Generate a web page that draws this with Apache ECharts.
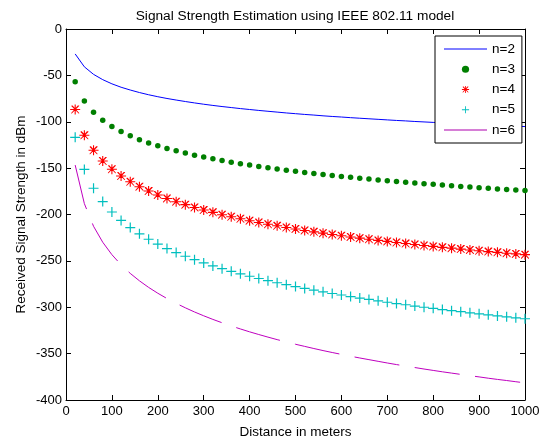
<!DOCTYPE html>
<html>
<head>
<meta charset="utf-8">
<script src="https://cdn.jsdelivr.net/npm/echarts@6/dist/echarts.min.js"></script>
<style>
html,body{margin:0;padding:0;background:#fff;}
#c{width:539px;height:439px;}
</style>
</head>
<body>
<div id="c"></div>
<script>
var distance = [20,40,60,80,100,120,140,160,180,200,220,240,260,280,300,320,340,360,380,400,420,440,460,480,500,520,540,560,580,600,620,640,660,680,700,720,740,760,780,800,820,840,860,880,900,920,940,960,980,1000];
var n2 = [-26.9,-40.8,-48.9,-54.6,-59.1,-62.8,-65.8,-68.5,-70.9,-73.0,-74.9,-76.6,-78.2,-79.7,-81.1,-82.4,-83.6,-84.7,-85.8,-86.8,-87.8,-88.7,-89.6,-90.5,-91.3,-92.1,-92.8,-93.6,-94.3,-94.9,-95.6,-96.2,-96.8,-97.4,-98.0,-98.6,-99.1,-99.7,-100.2,-100.7,-101.2,-101.7,-102.1,-102.6,-103.0,-103.5,-103.9,-104.3,-104.8,-105.2];
var n3 = [-56.9,-77.7,-89.8,-98.5,-105.2,-110.6,-115.2,-119.3,-122.8,-125.9,-128.8,-131.4,-133.8,-136.0,-138.1,-140.0,-141.9,-143.6,-145.2,-146.7,-148.2,-149.6,-150.9,-152.2,-153.4,-154.6,-155.7,-156.8,-157.9,-158.9,-159.9,-160.8,-161.8,-162.7,-163.5,-164.4,-165.2,-166.0,-166.8,-167.5,-168.3,-169.0,-169.7,-170.4,-171.1,-171.7,-172.4,-173.0,-173.6,-174.2];
var n4 = [-86.8,-114.6,-130.8,-142.3,-151.2,-158.5,-164.7,-170.0,-174.7,-178.9,-182.7,-186.2,-189.4,-192.4,-195.2,-197.7,-200.2,-202.4,-204.6,-206.7,-208.6,-210.5,-212.2,-214.0,-215.6,-217.2,-218.7,-220.1,-221.5,-222.9,-224.2,-225.5,-226.7,-227.9,-229.0,-230.2,-231.3,-232.3,-233.4,-234.4,-235.4,-236.3,-237.3,-238.2,-239.1,-240.0,-240.8,-241.7,-242.5,-243.3];
var n5 = [-116.8,-151.4,-171.7,-186.1,-197.3,-206.4,-214.1,-220.8,-226.7,-231.9,-236.7,-241.0,-245.0,-248.7,-252.2,-255.4,-258.4,-261.3,-264.0,-266.6,-269.0,-271.3,-273.6,-275.7,-277.7,-279.7,-281.6,-283.4,-285.2,-286.8,-288.5,-290.1,-291.6,-293.1,-294.6,-296.0,-297.3,-298.7,-300.0,-301.2,-302.5,-303.7,-304.8,-306.0,-307.1,-308.2,-309.3,-310.3,-311.4,-312.4];
var n6 = [-146.7,-188.3,-212.7,-229.9,-243.3,-254.3,-263.5,-271.5,-278.6,-284.9,-290.6,-295.8,-300.6,-305.1,-309.2,-313.1,-316.7,-320.2,-323.4,-326.5,-329.4,-332.2,-334.9,-337.4,-339.9,-342.2,-344.5,-346.7,-348.8,-350.8,-352.8,-354.7,-356.5,-358.3,-360.1,-361.8,-363.4,-365.0,-366.6,-368.1,-369.6,-371.0,-372.4,-373.8,-375.1,-376.5,-377.8,-379.0,-380.3,-381.5];
var seriesNames = ['n=2','n=3','n=4','n=5','n=6'];
var xTicks = {min:0, max:1000, interval:100};
var yTicks = {min:-400, max:0, interval:50};

function pairs(ys){ return distance.map(function(d,i){ return [d, ys[i]]; }); }

var plusPath = 'path://M4.4,0 H5.6 V4.4 H10 V5.6 H5.6 V10 H4.4 V5.6 H0 V4.4 H4.4 Z';
var starPath = 'path://M4.45,0 H5.55 V4.45 H10 V5.55 H5.55 V10 H4.45 V5.55 H0 V4.45 H4.45 Z M1.6,1 L2.4,1 L9,8.4 L9,9 L8.4,9 L1,1.6 Z M7.6,1 L9,1 L9,1.6 L1.6,9 L1,9 L1,8.4 Z';

var font = 'Liberation Sans, Arial, Helvetica, sans-serif';
var chart = echarts.init(document.getElementById('c'), null, {renderer:'canvas'});
var axisBase = {
  axisLine:{show:true, onZero:false, lineStyle:{color:'#000', width:1}},
  axisTick:{show:true, inside:true, length:5, lineStyle:{color:'#000'}},
  splitLine:{show:false}
};
chart.setOption({
  animation:false,
  backgroundColor:'#fff',
  textStyle:{fontFamily:font},
  title:{text:'Signal Strength Estimation using IEEE 802.11 model', left:290, textAlign:'center', top:4,
    textStyle:{fontFamily:font, fontSize:13.7, fontWeight:'normal', color:'#000'}},
  grid:{left:66, right:14, top:29, bottom:39, containLabel:false, outerBoundsMode:'none'},
  legend:{
    orient:'vertical', left:435, top:36,
    backgroundColor:'#fff', borderColor:'#000', borderWidth:1,
    padding:[6,7,6,8], itemWidth:43, itemHeight:9, itemGap:6.25,
    textStyle:{fontFamily:font, fontSize:13.5, color:'#000'},
    data:[
      {name:seriesNames[0], itemStyle:{opacity:0}, lineStyle:{width:1, color:'#0000ff'}},
      {name:seriesNames[1]},
      {name:seriesNames[2]},
      {name:seriesNames[3]},
      {name:seriesNames[4], itemStyle:{opacity:0}, lineStyle:{width:2, color:'#d67ed6', type:'solid'}}
    ]
  },
  xAxis:[
    Object.assign({type:'value', position:'bottom', min:xTicks.min, max:xTicks.max, interval:xTicks.interval,
      name:'Distance in meters', nameLocation:'middle', nameGap:25,
      nameTextStyle:{fontFamily:font, fontSize:13.5, color:'#000'},
      axisLabel:{fontFamily:font, fontSize:13, color:'#000', margin:5, formatter:function(v){return String(v);}}}, axisBase),
    Object.assign({type:'value', position:'top', min:xTicks.min, max:xTicks.max, interval:xTicks.interval,
      axisLabel:{show:false}}, axisBase)
  ],
  yAxis:[
    Object.assign({type:'value', position:'left', min:yTicks.min, max:yTicks.max, interval:yTicks.interval,
      name:'Received Signal Strength in dBm', nameLocation:'middle', nameGap:38, nameMoveOverlap:false,
      nameTextStyle:{fontFamily:font, fontSize:13.5, color:'#000'},
      axisLabel:{fontFamily:font, fontSize:13, color:'#000', margin:4}}, axisBase),
    Object.assign({type:'value', position:'right', min:yTicks.min, max:yTicks.max, interval:yTicks.interval,
      axisLabel:{show:false}}, axisBase)
  ],
  series:[
    {name:seriesNames[0], type:'line', data:pairs(n2), symbol:'none', color:'#0000ff',
      lineStyle:{color:'#0000ff', width:1}},
    {name:seriesNames[1], type:'line', data:pairs(n3), symbol:'circle', symbolSize:5.5, color:'#007f00',
      itemStyle:{color:'#007f00'}, lineStyle:{width:0, opacity:0}},
    {name:seriesNames[2], type:'line', data:pairs(n4), symbol:starPath, symbolSize:10, color:'#ff0000',
      itemStyle:{color:'#ff0000'}, lineStyle:{width:0, opacity:0}},
    {name:seriesNames[3], type:'line', data:pairs(n5), symbol:plusPath, symbolSize:10, color:'#00bfbf',
      itemStyle:{color:'#00bfbf'}, lineStyle:{width:0, opacity:0}},
    {name:seriesNames[4], type:'line', data:pairs(n6), symbol:'none', color:'#bf00bf',
      lineStyle:{color:'#bf00bf', width:1, type:[45.5,15.5]}}
  ]
});
</script>
</body>
</html>
